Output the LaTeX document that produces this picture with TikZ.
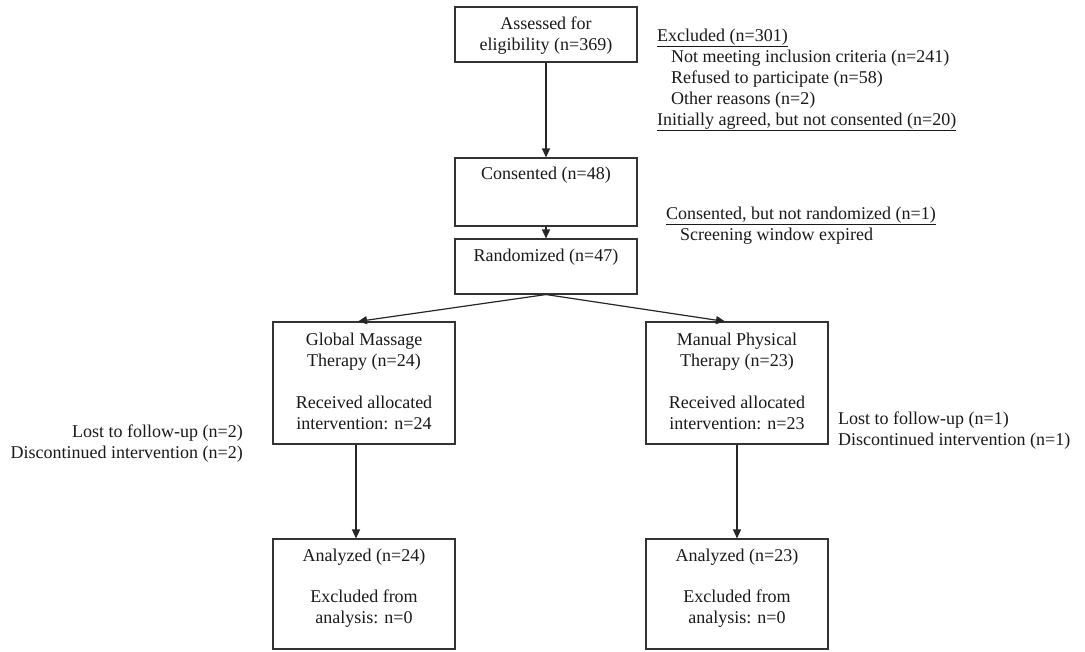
\documentclass[tikz,border=0pt]{standalone}
\usepackage{fontspec}
\setmainfont{Liberation Serif}
\usetikzlibrary{arrows.meta,calc}
\begin{document}
\begin{tikzpicture}[x=1pt,y=-1pt,
  box/.style={draw=black!80, line width=1.1pt, minimum width=182pt, inner sep=0},
  txt/.style={inner sep=0, font=\fontsize{18}{21}\selectfont, align=center, text=black!90},
  side/.style={inner sep=0, font=\fontsize{18}{21}\selectfont, text=black!90},
  arr/.style={draw=black!85, line width=1.2pt, -{Triangle[length=9pt,width=8pt]}}]
\useasboundingbox (0,0) rectangle (1085,652);
% boxes
\node[box, minimum height=55pt]  (assess) at (546,34.5) {};
\node[box, minimum height=68pt]  (cons)   at (546,192) {};
\node[box, minimum height=55pt]  (rand)   at (546,266.5) {};
\node[box, minimum height=122pt] (gmt)    at (364,383) {};
\node[box, minimum height=122pt] (mpt)    at (737,383) {};
\node[box, minimum height=110pt] (an1)    at (364,594) {};
\node[box, minimum height=110pt] (an2)    at (737,594) {};
% box texts
\node[txt] (tassess) at (546,36) {Assessed for\\eligibility (n=369)};
\node[txt] (tcons)   at (546,175) {Consented (n=48)};
\node[txt] (trand)   at (546,257) {Randomized (n=47)};
\node[txt] (tgmt)    at (364,381) {Global Massage\\Therapy (n=24)\\[21pt]Received allocated\\intervention: n=24};
\node[txt] (tmpt)    at (737,381) {Manual Physical\\Therapy (n=23)\\[21pt]Received allocated\\intervention: n=23};
\node[txt] (tan1)    at (364,588) {Analyzed (n=24)\\[20pt]Excluded from\\analysis: n=0};
\node[txt] (tan2)    at (737,588) {Analyzed (n=23)\\[20pt]Excluded from\\analysis: n=0};
% side texts
\node[side, align=left, anchor=west] (excl) at (657,80)
  {\underline{Excluded (n=301)}\\
   \hspace*{14pt}Not meeting inclusion criteria (n=241)\\
   \hspace*{14pt}Refused to participate (n=58)\\
   \hspace*{14pt}Other reasons (n=2)\\
   \underline{Initially agreed, but not consented (n=20)}};
\node[side, align=left, anchor=west] (notrand) at (666,225.5)
  {\underline{Consented, but not randomized (n=1)}\\
   \hspace*{14pt}Screening window expired};
\node[side, align=right, anchor=east] (lost1) at (243,444)
  {Lost to follow-up (n=2)\\Discontinued intervention (n=2)};
\node[side, align=left, anchor=west] (lost2) at (838,430.5)
  {Lost to follow-up (n=1)\\Discontinued intervention (n=1)};
% connectors
\draw[arr] (assess.south) -- (cons.north);
\draw[arr] (cons.south) -- (rand.north);
\draw[arr] (rand.south) -- ([xshift=-6pt]gmt.north);
\draw[arr] (rand.south) -- ([xshift=-12pt]mpt.north);
\draw[arr] ([xshift=-8pt]gmt.south) -- ([xshift=-8pt]an1.north);
\draw[arr] (mpt.south) -- (an2.north);
\end{tikzpicture}
\end{document}
